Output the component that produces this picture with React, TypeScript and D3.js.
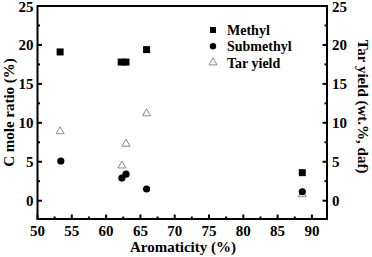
import React from "react";
import * as d3 from "d3";

const methylX = [53.3, 62.2, 62.9, 65.9, 88.6];
const methylY = [19.1, 17.8, 17.8, 19.4, 3.6];
const submethylX = [53.4, 62.3, 62.9, 65.9, 88.6];
const submethylY = [5.1, 2.9, 3.4, 1.5, 1.15];
const tarX = [53.3, 62.3, 62.9, 65.9, 88.6];
const tarY = [8.9, 4.5, 7.3, 11.2, 0.8];
const xTicks = [50, 55, 60, 65, 70, 75, 80, 85, 90];
const yTicks = [0, 5, 10, 15, 20, 25];
const legendLabels = ["Methyl", "Submethyl", "Tar yield"];

const W = 372, H = 257;
const L = 37.5, R = 327, T = 6, B = 219;
const font = "Liberation Serif";

export default function App() {
  const x = d3.scaleLinear().domain([50, 92.2]).range([L, R]);
  const y = d3.scaleLinear().domain([-2.35, 25]).range([B, T]);
  const yMinor = d3.range(-0, 25, 2.5).filter((v) => v % 5 !== 0);
  const xMinor = d3.range(52.5, 92, 5);
  const sq = 7;
  const tri = d3.symbol().type(d3.symbolTriangle).size(28)();
  const labelY = (t: number) => Math.max(y(t), 7);
  return (
    <svg width={W} height={H} style={{ position: "absolute", left: 0, top: 0 }}>
      <rect x={0} y={0} width={W} height={H} fill="#fff" />
      {xTicks.map((t) => (
        <line key={"xt" + t} x1={x(t)} x2={x(t)} y1={B} y2={B - 4.5} stroke="#000" strokeWidth={2} />
      ))}
      {xMinor.map((t) => (
        <line key={"xm" + t} x1={x(t)} x2={x(t)} y1={B} y2={B - 2.5} stroke="#000" strokeWidth={2} />
      ))}
      {yTicks.map((t) => (
        <g key={"yt" + t}>
          <line x1={L} x2={L + 4.5} y1={y(t)} y2={y(t)} stroke="#000" strokeWidth={2} />
          <line x1={R} x2={R - 4.5} y1={y(t)} y2={y(t)} stroke="#000" strokeWidth={2} />
        </g>
      ))}
      {yMinor.map((t) => (
        <g key={"ym" + t}>
          <line x1={L} x2={L + 2.5} y1={y(t)} y2={y(t)} stroke="#000" strokeWidth={2} />
          <line x1={R} x2={R - 2.5} y1={y(t)} y2={y(t)} stroke="#000" strokeWidth={2} />
        </g>
      ))}
      <rect x={L} y={T} width={R - L} height={B - T} fill="none" stroke="#000" strokeWidth={2} />
      <g fontFamily={font} fontWeight="bold" fontSize={15} fill="#000">
        {xTicks.map((t) => (
          <text key={"xl" + t} x={x(t)} y={B + 17} textAnchor="middle">{t}</text>
        ))}
        {yTicks.map((t) => (
          <g key={"yl" + t}>
            <text x={L - 4} y={labelY(t)} dy="0.35em" textAnchor="end">{t}</text>
            <text x={R + 5} y={labelY(t)} dy="0.35em" textAnchor="start">{t}</text>
          </g>
        ))}
        <text x={183} y={252} textAnchor="middle">Aromaticity (%)</text>
        <text transform={`translate(14,${(T + B) / 2}) rotate(-90)`} textAnchor="middle">C mole ratio (%)</text>
        <text transform={`translate(358,${(T + B) / 2 - 6}) rotate(90)`} textAnchor="middle">Tar yield (wt.%, daf)</text>
      </g>
      {tarX.map((v, i) => (
        <path key={"t" + i} d={tri!} transform={`translate(${x(v)},${y(tarY[i])})`} fill="none" stroke="#888" strokeWidth={1} />
      ))}
      {methylX.map((v, i) => (
        <rect key={"m" + i} x={x(v) - sq / 2} y={y(methylY[i]) - sq / 2} width={sq} height={sq} fill="#000" />
      ))}
      {submethylX.map((v, i) => (
        <circle key={"s" + i} cx={x(v)} cy={y(submethylY[i])} r={3.6} fill="#000" />
      ))}
      <g fontFamily={font} fontWeight="bold" fontSize={14} fill="#000">
        {legendLabels.map((lab, i) => {
          const ly = 30 + i * 16.3;
          const lx = 213;
          return (
            <g key={lab}>
              {i === 0 && <rect x={lx - 3} y={ly - 3} width={6} height={6} fill="#000" />}
              {i === 1 && <circle cx={lx} cy={ly} r={3.2} fill="#000" />}
              {i === 2 && <path d={tri!} transform={`translate(${lx},${ly})`} fill="none" stroke="#888" strokeWidth={1} />}
              <text x={227} y={ly} dy="0.35em">{lab}</text>
            </g>
          );
        })}
      </g>
    </svg>
  );
}
